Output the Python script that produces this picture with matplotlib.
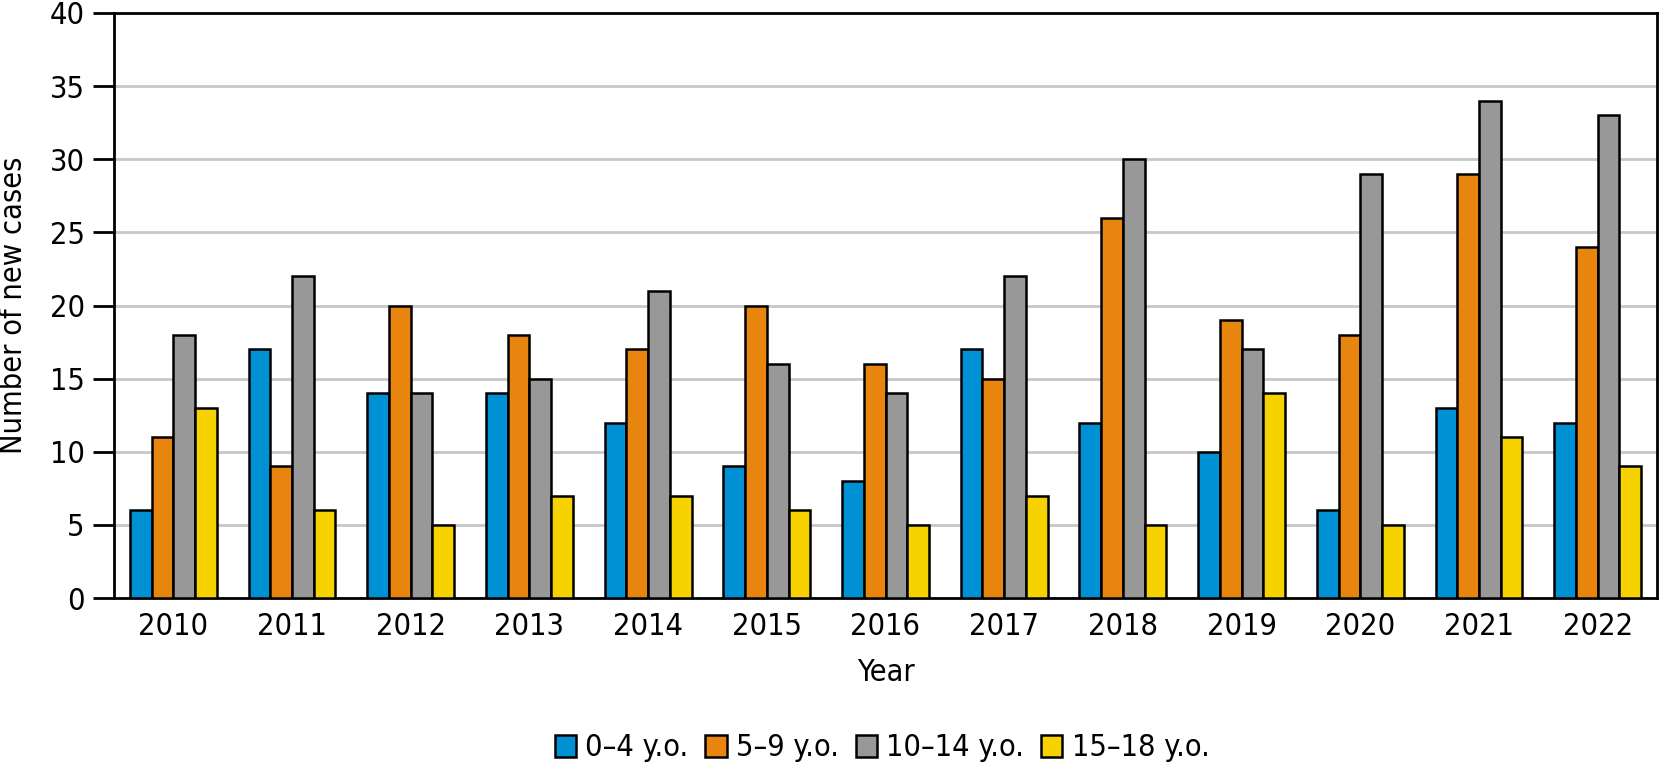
import matplotlib
matplotlib.use("Agg")
import matplotlib.pyplot as plt
import numpy as np
from matplotlib import font_manager

years = ["2010", "2011", "2012", "2013", "2014", "2015", "2016", "2017", "2018", "2019", "2020", "2021", "2022"]
series_names = ["0–4 y.o.", "5–9 y.o.", "10–14 y.o.", "15–18 y.o."]
age_0_4 = [6, 17, 14, 14, 12, 9, 8, 17, 12, 10, 6, 13, 12]
age_5_9 = [11, 9, 20, 18, 17, 20, 16, 15, 26, 19, 18, 29, 24]
age_10_14 = [18, 22, 14, 15, 21, 16, 14, 22, 30, 17, 29, 34, 33]
age_15_18 = [13, 6, 5, 7, 7, 6, 5, 7, 5, 14, 5, 11, 9]
colors = ["#0091D5", "#E8850F", "#989898", "#F5D200"]

# Prefer a condensed sans face if one is installed
fp = None
for f in font_manager.fontManager.ttflist:
    st = str(f.stretch).lower()
    if ("condensed" in st or "narrow" in f.name.lower() or "condensed" in f.name.lower()) \
            and f.style == "normal" and f.weight in (400, "normal", "regular") \
            and "mono" not in f.name.lower() and "serif" not in f.name.lower():
        fp = f.fname
        break
if fp:
    base = font_manager.FontProperties(fname=fp)
else:
    base = None
plt.rcParams["font.family"] = ["Roboto", "DejaVu Sans"]

def fprop(size):
    if base is not None:
        p = base.copy()
        p.set_size(size)
        return p
    return font_manager.FontProperties(family=["Roboto", "DejaVu Sans"], size=size)

W, H = 1659, 764
fig = plt.figure(figsize=(W / 100, H / 100), dpi=100)
ax = fig.add_axes([114 / W, 1 - 598 / H, (1657 - 114) / W, (598 - 13) / H])

x = np.arange(len(years))
bw = 0.183
data = [age_0_4, age_5_9, age_10_14, age_15_18]
for i, (vals, name, c) in enumerate(zip(data, series_names, colors)):
    ax.bar(x + (i - 1.5) * bw, vals, width=bw, color=c, edgecolor="black",
           linewidth=1.8, label=name, zorder=3)

fs = 22 if base is not None else 21
ax.set_xlim(-0.5, len(years) - 0.5)
ax.set_ylim(0, 40)
ax.set_yticks(range(0, 41, 5))
ax.set_xticks(x)
ax.set_xticklabels(years)
for lbl in ax.get_xticklabels() + ax.get_yticklabels():
    lbl.set_fontproperties(fprop(fs))
ax.yaxis.grid(True, color="#C8C8C8", linewidth=2, zorder=0)
ax.set_axisbelow(True)
for s in ax.spines.values():
    s.set_linewidth(2)
    s.set_color("black")
ax.tick_params(axis="y", length=15, width=2, pad=6)
ax.tick_params(axis="x", length=0, pad=10)
ax.set_xlabel("Year", fontproperties=fprop(fs), labelpad=12)
ax.set_ylabel("Number of new cases", fontproperties=fprop(fs), labelpad=10)
ax.yaxis.set_label_coords(-86 / (1657 - 114), 0.5)

fig.legend(loc="center", bbox_to_anchor=(882 / W, 1 - 748 / H), ncol=4,
           frameon=False, prop=fprop(fs), handlelength=0.7, handleheight=0.7,
           handletextpad=0.3, columnspacing=0.55)

fig.savefig("out.png", dpi=100)
